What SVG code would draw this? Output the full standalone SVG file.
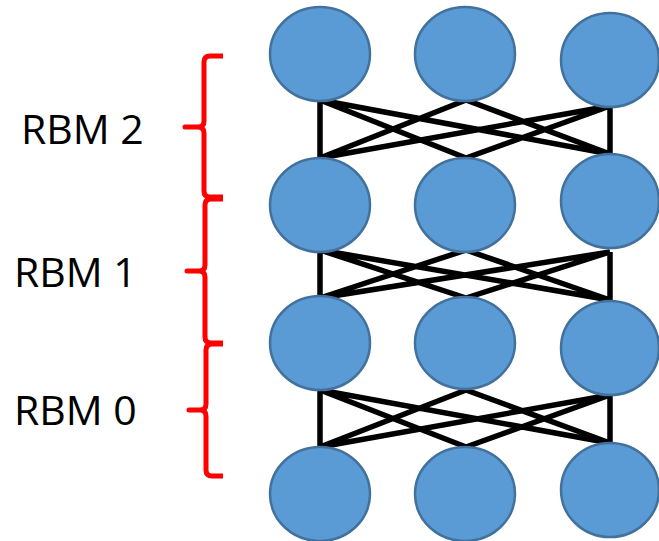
<svg xmlns="http://www.w3.org/2000/svg" width="659" height="541" viewBox="0 0 659 541">
  <style>
    .unit { fill: #5B9BD5; stroke: #41719C; stroke-width: 2.5; }
    .edge { stroke: #000; stroke-width: 5.5; stroke-linecap: butt; fill: none; }
    .brace { stroke: #FF0000; stroke-width: 5; fill: none; stroke-linejoin: round; }
    .label { font-family: "Open Sans", "Liberation Sans", sans-serif; font-size: 41px; fill: #000; }
  </style>
  <rect width="659" height="541" fill="#fff"/>

  <!-- weights between layers -->
  <g id="connectors">
    <!-- layer 3 to layer 2 -->
    <path class="edge" d="M320,100 L320,158 M610,106 L610,154 M320,100 L466,158 M320,100 L610,154 M466,100 L320,158 M466,100 L610,154 M610,106 L320,158 M610,106 L466,158"/>
    <!-- layer 2 to layer 1 -->
    <path class="edge" d="M320,250 L320,298 M610,252 L610,300 M320,250 L466,298 M320,250 L610,300 M466,250 L320,298 M466,250 L610,300 M610,252 L320,298 M610,252 L466,298"/>
    <!-- layer 1 to layer 0 -->
    <path class="edge" d="M320,390 L320,447 M610,395 L610,443 M320,390 L466,447 M320,390 L610,443 M466,390 L320,447 M466,390 L610,443 M610,395 L320,447 M610,395 L466,447"/>
  </g>

  <!-- units, top layer first -->
  <g id="layer3">
    <ellipse id="n3a" class="unit" cx="320" cy="54" rx="50" ry="47"/>
    <ellipse id="n3b" class="unit" cx="465" cy="54" rx="50" ry="47"/>
    <ellipse id="n3c" class="unit" cx="610" cy="60" rx="49" ry="47"/>
  </g>
  <g id="layer2">
    <ellipse id="n2a" class="unit" cx="320" cy="205" rx="50" ry="47"/>
    <ellipse id="n2b" class="unit" cx="465" cy="205" rx="50" ry="47"/>
    <ellipse id="n2c" class="unit" cx="610" cy="201" rx="49" ry="47"/>
  </g>
  <g id="layer1">
    <ellipse id="n1a" class="unit" cx="320" cy="343" rx="50" ry="47"/>
    <ellipse id="n1b" class="unit" cx="465" cy="343" rx="50" ry="46"/>
    <ellipse id="n1c" class="unit" cx="610" cy="348" rx="49" ry="47"/>
  </g>
  <g id="layer0">
    <ellipse id="n0a" class="unit" cx="320" cy="494" rx="50" ry="47"/>
    <ellipse id="n0b" class="unit" cx="465" cy="494" rx="50" ry="47"/>
    <ellipse id="n0c" class="unit" cx="610" cy="490" rx="49" ry="47"/>
  </g>

  <!-- RBM groupings -->
  <g id="rbm2">
    <path class="brace" d="M223,56 L210,56 Q204,56 204,62 L204,121 Q204,127 198,127 L185,127 L198,127 Q204,127 204,133 L204,191 Q204,197 210,197 L223,197"/>
    <text class="label" x="21" y="144">RBM 2</text>
  </g>
  <g id="rbm1">
    <path class="brace" d="M223,199 L211,199 Q205,199 205,205 L205,265 Q205,271 199,271 L187,271 L199,271 Q205,271 205,277 L205,337 Q205,343 211,343 L223,343"/>
    <text class="label" x="14" y="287">RBM 1</text>
  </g>
  <g id="rbm0">
    <path class="brace" d="M223,344 L212,344 Q206,344 206,350 L206,404 Q206,410 200,410 L189,410 L200,410 Q206,410 206,416 L206,470 Q206,476 212,476 L223,476"/>
    <text class="label" x="14" y="425">RBM 0</text>
  </g>
</svg>
